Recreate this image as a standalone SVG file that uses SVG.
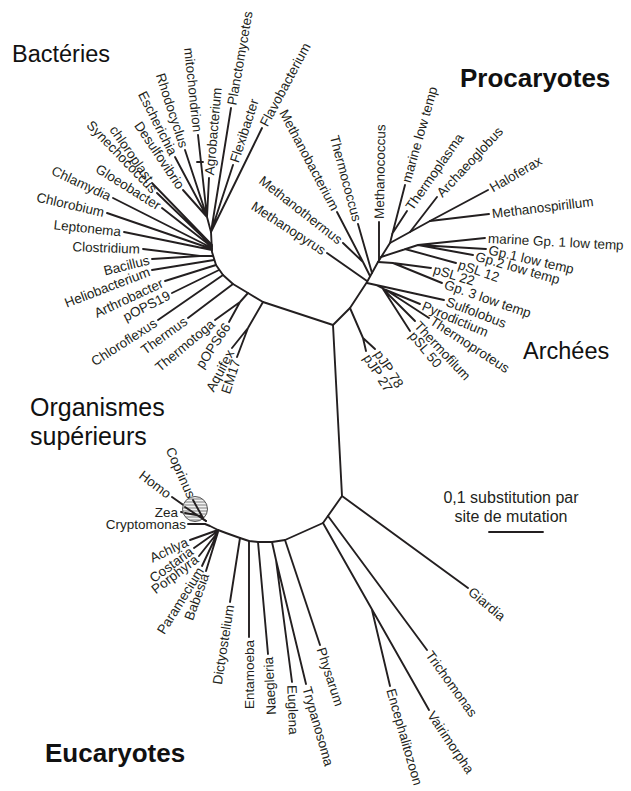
<svg xmlns="http://www.w3.org/2000/svg" width="631" height="791" viewBox="0 0 631 791">
<defs>
<style>
.e{stroke:#231f20;stroke-width:1.9;fill:none;stroke-linecap:round;stroke-linejoin:round}
.l{font-family:"Liberation Sans",Arial,Helvetica,sans-serif;font-size:13.5px;fill:#231f20}
.s{text-anchor:start}
.n{text-anchor:end}
.big{font-family:"Liberation Sans",Arial,Helvetica,sans-serif;font-size:23.5px;fill:#111}
.bold{font-family:"Liberation Sans",Arial,Helvetica,sans-serif;font-size:26px;font-weight:bold;fill:#111}
</style>
<pattern id="stripes" patternUnits="userSpaceOnUse" width="4" height="3">
<rect width="4" height="3" fill="#b8b8b8"/>
<rect y="2" width="4" height="1" fill="#f2f2f2"/>
</pattern>
</defs>
<rect width="631" height="791" fill="#ffffff"/>

<g id="connectors">
<path class="e" d="M333,325 L263,302 L248,293 L233,284 L223,275 L216,265 L212,252 L211,232"/>
<path class="e" d="M263,302 L248,328 L232,348 M248,328 L237,357"/>
<path class="e" d="M248,293 L240,302 L215,320 M240,302 L229,322"/>
<path class="e" d="M233,284 L188,318 M223,275 L158,320 M219,270 L172,293 M216,265 L165,281 M214,260 L152,270"/>
<path class="e" d="M213,256 L200,256 L152,259 M200,256 L143,249"/>
<path class="e" d="M212,250 L124,232 M212,249 L107,213 M212,248 L113,198 M212,247 L162,208 M212,246 L157,193 M212,245 L152,183"/>
<path class="e" d="M211,232 L207,217 L183,190 M207,217 L175,157 M207,217 L185,150 M207,217 L198,135 M207,217 L209,178"/>
<path class="e" d="M197,162 L203,162"/>
<path class="e" d="M211,232 L231,108 M211,232 L233,165 M211,232 L262,128"/>

<path class="e" d="M333,325 L350,308 L367,282 L378,262 L390,243 L430,221 L488,190"/>
<path class="e" d="M350,308 L363,338 L366,351 M363,338 L375,349"/>
<path class="e" d="M367,283 L376,285 L444,300 M376,285 L386,290 L420,304 M386,290 L429,318 M383,289 L415,321 M383,289 L410,331"/>
<path class="e" d="M327,253 L367,281 M343,243 L363,262 L370,276 M337,212 L363,262 M358,224 L372,273 M379,222 L379,260"/>
<path class="e" d="M405,185 L390,243 M407,211 L392,234 M437,197 L410,232 M489,214 L430,221"/>
<path class="e" d="M381,257 L418,245 L485,238 M418,245 L486,249 M418,245 L473,255 M405,249 L456,263"/>
<path class="e" d="M378,262 L393,263 L431,268 M393,263 L442,283"/>

<path class="e" d="M333,325 L342,496 L468,588 M342,496 L323,523"/>
<path class="e" d="M328,516 L427,650 M323,523 L429,710 M372,610 L390,686"/>
<path class="e" d="M323,523 L285,540 L272,542 L258,542 L249,541 L240,538 L226,533 L218,530 L210,526 L205,524"/>
<path class="e" d="M285,540 L320,645 M272,542 L276,560 L306,684 M276,560 L292,682 M258,542 L268,654 M249,541 L249,637 M240,538 L230,602"/>
<path class="e" d="M205,524 L188,524 M218,530 L190,540 M218,531 L194,548 M218,532 L199,556 M218,532 L202,566 M218,532 L206,571"/>
<path class="e" d="M206,521 L172,497 M203,518 L193,500 M202,516 L181,512"/>
</g>

<g id="circle">
<circle cx="195" cy="509" r="12.5" fill="url(#stripes)" stroke="#555" stroke-width="1"/>
<path class="e" d="M206,521 L185,507 M203,518 L193,500 M202,516 L185,513"/>
</g>

<g id="titles">
<text class="big" x="12" y="62">Bactéries</text>
<text class="bold" x="460" y="87">Procaryotes</text>
<text class="big" x="523" y="359">Archées</text>
<text class="big" x="30" y="416" style="font-size:25px">Organismes</text>
<text class="big" x="30" y="445" style="font-size:25px">supérieurs</text>
<text class="bold" x="45" y="762">Eucaryotes</text>
</g>

<g id="scale">
<text class="l" x="511" y="503" text-anchor="middle" style="font-size:16px">0,1 substitution par</text>
<text class="l" x="511" y="522" text-anchor="middle" style="font-size:16px">site de mutation</text>
<path class="e" d="M489,532 L543,532"/>
</g>

<g id="bacteria-labels" class="l">
<text class="s" transform="translate(262,128) rotate(-62)" x="3" dy="0.35em">Flavobacterium</text>
<text class="s" transform="translate(233,165) rotate(-72)" x="3" dy="0.35em">Flexibacter</text>
<text class="s" transform="translate(231,108) rotate(-80)" x="3" dy="0.35em">Planctomycetes</text>
<text class="s" transform="translate(209,178) rotate(-85)" x="3" dy="0.35em">Agrobacterium</text>
<text class="n" transform="translate(198,135) rotate(84)" x="-3" dy="0.35em">mitochondrion</text>
<text class="n" transform="translate(185,150) rotate(72)" x="-3" dy="0.35em">Rhodocyclus</text>
<text class="n" transform="translate(175,157) rotate(63)" x="-3" dy="0.35em">Escherichia</text>
<text class="n" transform="translate(183,190) rotate(56)" x="-3" dy="0.35em">Desulfovibrio</text>
<text class="n" transform="translate(152,183) rotate(55)" x="-3" dy="0.35em">chloroplast</text>
<text class="n" transform="translate(157,193) rotate(46)" x="-3" dy="0.35em">Synechococcus</text>
<text class="n" transform="translate(162,208) rotate(32)" x="-3" dy="0.35em">Gloeobacter</text>
<text class="n" transform="translate(113,198) rotate(25)" x="-3" dy="0.35em">Chlamydia</text>
<text class="n" transform="translate(107,213) rotate(13)" x="-3" dy="0.35em">Chlorobium</text>
<text class="n" transform="translate(124,232) rotate(6)" x="-3" dy="0.35em">Leptonema</text>
<text class="n" transform="translate(143,249) rotate(2)" x="-3" dy="0.35em">Clostridium</text>
<text class="n" transform="translate(152,259) rotate(-14)" x="-3" dy="0.35em">Bacillus</text>
<text class="n" transform="translate(152,270) rotate(-21)" x="-3" dy="0.35em">Heliobacterium</text>
<text class="n" transform="translate(165,281) rotate(-25)" x="-3" dy="0.35em">Arthrobacter</text>
<text class="n" transform="translate(172,293) rotate(-27)" x="-3" dy="0.35em">pOPS19</text>
<text class="n" transform="translate(158,320) rotate(-33)" x="-3" dy="0.35em">Chloroflexus</text>
<text class="n" transform="translate(188,318) rotate(-36)" x="-3" dy="0.35em">Thermus</text>
<text class="n" transform="translate(215,320) rotate(-40)" x="-3" dy="0.35em">Thermotoga</text>
<text class="n" transform="translate(229,322) rotate(-56)" x="-3" dy="0.35em">pOPS66</text>
<text class="n" transform="translate(232,348) rotate(-62)" x="-3" dy="0.35em">Aquifex</text>
<text class="n" transform="translate(237,357) rotate(-72)" x="-3" dy="0.35em">EM17</text>
</g>

<g id="archaea-labels" class="l">
<text class="n" transform="translate(327,253) rotate(33)" x="-3" dy="0.35em">Methanopyrus</text>
<text class="n" transform="translate(343,243) rotate(38)" x="-3" dy="0.35em">Methanothermus</text>
<text class="n" transform="translate(337,212) rotate(62)" x="-3" dy="0.35em">Methanobacterium</text>
<text class="n" transform="translate(358,224) rotate(75)" x="-3" dy="0.35em">Thermococcus</text>
<text class="s" transform="translate(379,222) rotate(-89)" x="3" dy="0.35em">Methanococcus</text>
<text class="s" transform="translate(405,185) rotate(-74)" x="3" dy="0.35em">marine low temp</text>
<text class="s" transform="translate(407,211) rotate(-55)" x="3" dy="0.35em">Thermoplasma</text>
<text class="s" transform="translate(437,197) rotate(-47)" x="3" dy="0.35em">Archaeoglobus</text>
<text class="s" transform="translate(488,190) rotate(-30)" x="3" dy="0.35em">Haloferax</text>
<text class="s" transform="translate(489,214) rotate(-7)" x="3" dy="0.35em">Methanospirillum</text>
<text class="s" transform="translate(485,238) rotate(3)" x="3" dy="0.35em">marine Gp. 1 low temp</text>
<text class="s" transform="translate(486,249) rotate(13)" x="3" dy="0.35em">Gp.1 low temp</text>
<text class="s" transform="translate(473,255) rotate(16)" x="3" dy="0.35em">Gp.2 low temp</text>
<text class="s" transform="translate(456,263) rotate(19)" x="3" dy="0.35em">pSL 12</text>
<text class="s" transform="translate(431,268) rotate(17)" x="3" dy="0.35em">pSL 22</text>
<text class="s" transform="translate(442,283) rotate(19)" x="3" dy="0.35em">Gp. 3 low temp</text>
<text class="s" transform="translate(444,300) rotate(21)" x="3" dy="0.35em">Sulfolobus</text>
<text class="s" transform="translate(420,304) rotate(23)" x="3" dy="0.35em">Pyrodictium</text>
<text class="s" transform="translate(429,318) rotate(33)" x="3" dy="0.35em">Thermoproteus</text>
<text class="s" transform="translate(415,321) rotate(47)" x="3" dy="0.35em">Thermofilum</text>
<text class="s" transform="translate(410,331) rotate(50)" x="3" dy="0.35em">pSL 50</text>
<text class="s" transform="translate(376,349) rotate(57)" x="3" dy="0.35em">pJP 78</text>
<text class="s" transform="translate(365,353) rotate(57)" x="3" dy="0.35em">pJP 27</text>
</g>

<g id="eukaryote-labels" class="l">
<text class="n" transform="translate(172,497) rotate(37)" x="-3" dy="0.35em">Homo</text>
<text class="n" transform="translate(193,500) rotate(66)" x="-3" dy="0.35em">Coprinus</text>
<text class="n" transform="translate(181,512) rotate(0)" x="-3" dy="0.35em">Zea</text>
<text class="n" transform="translate(188,524) rotate(0)" x="-2" dy="0.35em">Cryptomonas</text>
<text class="n" transform="translate(190,540) rotate(-25)" x="-3" dy="0.35em">Achlya</text>
<text class="n" transform="translate(194,548) rotate(-36)" x="-3" dy="0.35em">Costaria</text>
<text class="n" transform="translate(199,556) rotate(-37)" x="-3" dy="0.35em">Porphyra</text>
<text class="n" transform="translate(202,566) rotate(-58)" x="-3" dy="0.35em">Paramecium</text>
<text class="n" transform="translate(206,571) rotate(-70)" x="-3" dy="0.35em">Babesia</text>
<text class="n" transform="translate(230,602) rotate(-81)" x="-3" dy="0.35em">Dictyostelium</text>
<text class="n" transform="translate(249,637) rotate(-90)" x="-3" dy="0.35em">Entamoeba</text>
<text class="n" transform="translate(268,654) rotate(-93)" x="-3" dy="0.35em">Naegleria</text>
<text class="s" transform="translate(292,682) rotate(88)" x="3" dy="0.35em">Euglena</text>
<text class="s" transform="translate(306,684) rotate(74)" x="3" dy="0.35em">Trypanosoma</text>
<text class="s" transform="translate(320,645) rotate(72)" x="3" dy="0.35em">Physarum</text>
<text class="s" transform="translate(390,686) rotate(74)" x="3" dy="0.35em">Encephalitozoon</text>
<text class="s" transform="translate(429,710) rotate(56)" x="3" dy="0.35em">Vairimorpha</text>
<text class="s" transform="translate(427,650) rotate(54)" x="3" dy="0.35em">Trichomonas</text>
<text class="s" transform="translate(468,588) rotate(40)" x="3" dy="0.35em">Giardia</text>
</g>
</svg>
